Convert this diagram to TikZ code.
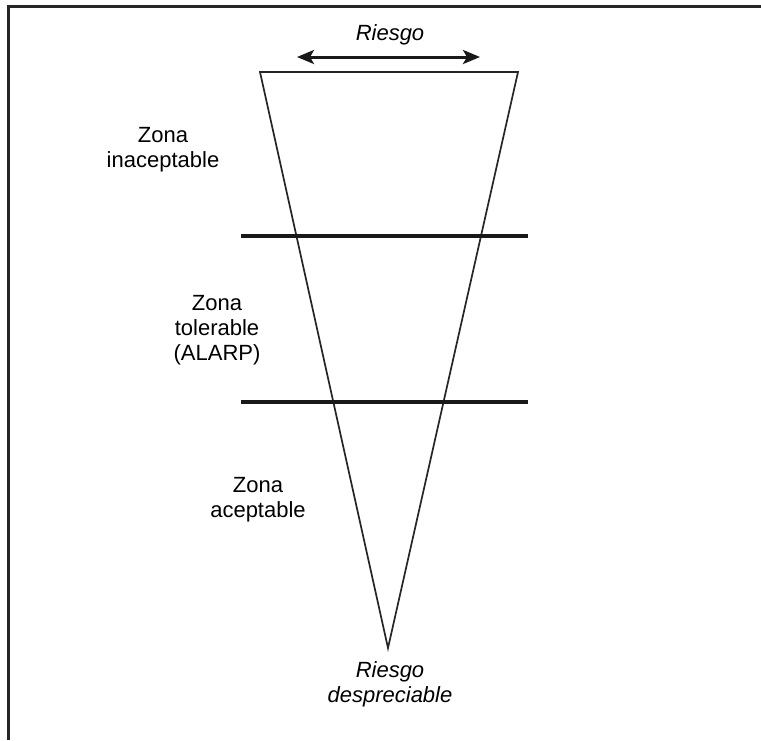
\documentclass[tikz,border=0pt]{standalone}
\usepackage{fontspec}
\setmainfont{Liberation Sans}
\usetikzlibrary{arrows.meta}
\tikzset{
  lbl/.style={align=center, inner sep=0pt, font=\fontsize{22}{25}\selectfont},
  ilbl/.style={lbl, font=\fontsize{22}{25}\selectfont\itshape},
  frame/.style={line width=2.4pt, black!85},
  tri/.style={line width=1.7pt, line join=miter, black!85},
  zoneline/.style={line width=4.5pt, black!90},
  riskarrow/.style={line width=3pt, black!90, {Stealth[length=17pt,width=14pt,inset=4pt]}-{Stealth[length=17pt,width=14pt,inset=4pt]}}
}
\begin{document}
\begin{tikzpicture}[x=1pt,y=-1pt]
\useasboundingbox (0,0) rectangle (761,740);
% frame (only top and left visible)
\coordinate (fb) at (8.5,740);
\coordinate (fc) at (8.5,6.5);
\coordinate (fr) at (761,6.5);
\draw[frame] (fb) -- (fc) -- (fr);
% triangle
\coordinate (tl) at (260,72);
\coordinate (tr) at (518,72);
\coordinate (ap) at (388,648);
\draw[tri] (tl) -- (tr) -- (ap) -- cycle;
% zone lines
\coordinate (l1a) at (241,236);
\coordinate (l1b) at (528,236);
\coordinate (l2a) at (241,402);
\coordinate (l2b) at (528,402);
\draw[zoneline] (l1a) -- (l1b);
\draw[zoneline] (l2a) -- (l2b);
% risk arrow
\coordinate (ra) at (297,57);
\coordinate (rb) at (480,57);
\draw[riskarrow] (ra) -- (rb);
% labels
\node[ilbl] (riesgo) at (390,35) {Riesgo};
\node[lbl] (inac) at (163,150) {Zona\\inaceptable};
\node[lbl] (tol) at (217,330) {Zona\\tolerable\\(ALARP)};
\node[lbl] (acep) at (258,500) {Zona\\aceptable};
\node[ilbl] (desp) at (390,684) {Riesgo\\despreciable};
\end{tikzpicture}
\end{document}
